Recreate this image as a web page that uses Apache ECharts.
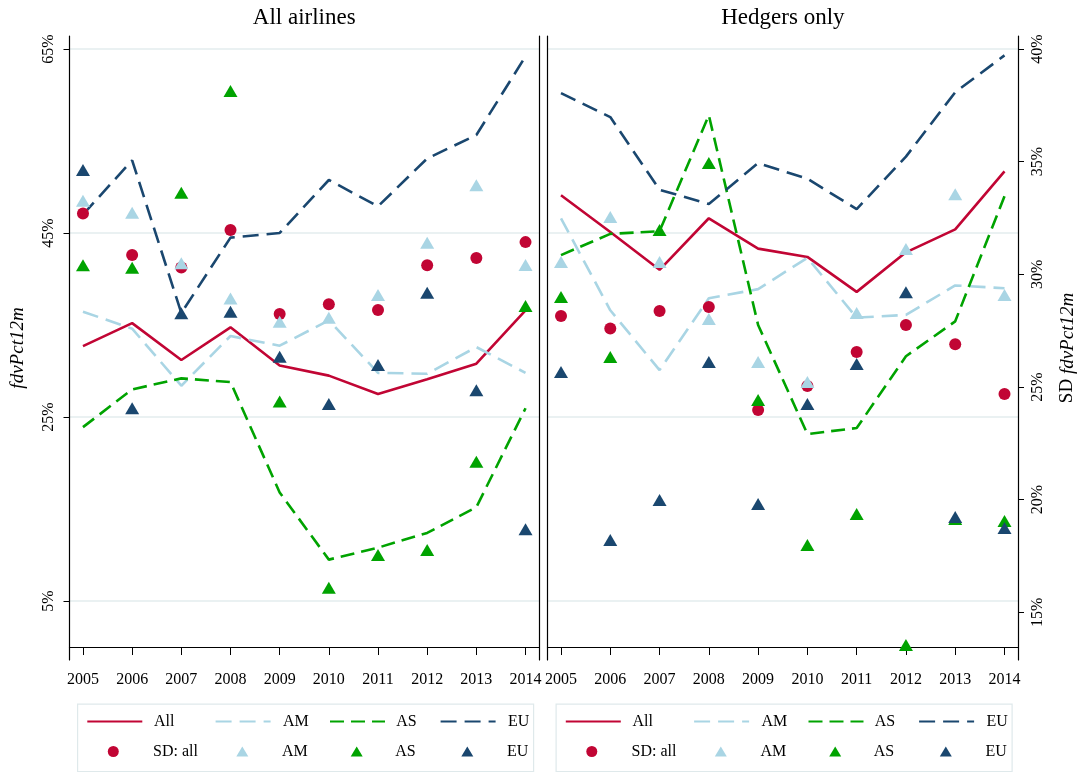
<!DOCTYPE html>
<html><head><meta charset="utf-8">
<script src="https://cdn.jsdelivr.net/npm/echarts@6/dist/echarts.min.js"></script>
<style>html,body{margin:0;padding:0;background:#fff}#c{width:1078px;height:772px}</style>
</head><body><div id="c"></div>
<script>
// ---------- data ----------
const years = [2005, 2006, 2007, 2008, 2009, 2010, 2011, 2012, 2013, 2014];
const meanTicks = [5, 25, 45, 65];
const sdTicks = [15, 20, 25, 30, 35, 40];
const panelTitles = ['All airlines', 'Hedgers only'];

// Panel 1: All airlines — mean fdvPct12m (lines, left axis, %)
const allMeanAll = [32.7, 35.2, 31.2, 34.75, 30.6, 29.5, 27.5, 29.1, 30.8, 36.6];
const allMeanAM  = [36.45, 34.6, 28.4, 33.8, 32.75, 35.5, 29.8, 29.7, 32.6, 29.8];
const allMeanAS  = [23.9, 28.0, 29.2, 28.8, 16.8, 9.5, 10.8, 12.4, 15.2, 25.95];
const allMeanEU  = [47.0, 52.9, 36.3, 44.5, 45.0, 50.76, 47.9, 53.1, 55.65, 64.2];
// Panel 1: SD fdvPct12m (markers, right axis, %)
const allSdAll = [32.7, 30.86, 30.3, 31.97, 28.24, 28.67, 28.42, 30.4, 30.72, 31.43];
const allSdAM  = [33.27, 32.73, 30.49, 28.93, 27.9, 28.07, 29.08, 31.4, 33.95, 30.41];
const allSdAS  = [30.4, 30.29, 33.62, 38.14, 24.35, 16.09, 17.54, 17.76, 21.68, 28.59];
const allSdEU  = [34.63, 24.05, 28.27, 28.34, 26.34, 24.24, 25.97, 29.18, 24.86, 18.68];

// Panel 2: Hedgers only — mean
const hedMeanAll = [49.1, 45.1, 41.0, 46.6, 43.3, 42.4, 38.6, 42.9, 45.4, 51.7];
const hedMeanAM  = [46.6, 36.6, 30.1, 37.9, 38.9, 42.3, 35.8, 36.1, 39.3, 39.0];
const hedMeanAS  = [42.6, 44.9, 45.2, 57.8, 35.0, 23.15, 23.8, 31.6, 35.4, 49.0];
const hedMeanEU  = [60.2, 57.6, 49.7, 48.15, 52.6, 50.9, 47.6, 53.3, 60.3, 64.3];
// Panel 2: SD
const hedSdAll = [28.15, 27.6, 28.37, 28.55, 23.98, 25.04, 26.55, 27.75, 26.9, 24.69];
const hedSdAM  = [30.55, 32.54, 30.55, 28.02, 26.11, 25.22, 28.28, 31.12, 33.56, 29.08];
const hedSdAS  = [28.99, 26.33, 31.97, 34.94, 24.42, 17.98, 19.36, 13.55, 19.14, 19.05];
const hedSdEU  = [25.66, 18.21, 19.98, 26.11, 19.8, 24.24, 26.02, 29.21, 19.23, 18.74];

// ---------- styles ----------
const FONT = "'Liberation Serif','Times New Roman',serif";
const C = {All: '#c10534', AM: '#a9d5e4', AS: '#00a300', EU: '#1a476f'};
const lineNames = ['All', 'AM', 'AS', 'EU'];
const sdNames = ['SD: all', 'SD AM', 'SD AS', 'SD EU'];
const dashes = {All: 'solid', AM: [16, 8], AS: [14, 7], EU: [16, 8]};

const panels = [
  {mean: [allMeanAll, allMeanAM, allMeanAS, allMeanEU], sd: [allSdAll, allSdAM, allSdAS, allSdEU]},
  {mean: [hedMeanAll, hedMeanAM, hedMeanAS, hedMeanEU], sd: [hedSdAll, hedSdAM, hedSdAS, hedSdEU]}
];

const grids = [
  {left: 69.5, top: 36, width: 469.5, height: 624},
  {left: 547.5, top: 36, width: 470.8, height: 624}
];
const X_MIN = 2004.726, X_MAX = 2014.274;
const MEAN_MIN = -1.41, MEAN_MAX = 66.41;
const SD_MIN = 12.88, SD_MAX = 40.58;

const axisLineStyle = {show: true, lineStyle: {color: '#000', width: 1.2}};
const xAxes = grids.map((g, i) => ({
  type: 'value', gridIndex: i, min: X_MIN, max: X_MAX,
  axisLine: axisLineStyle,
  axisTick: {show: true, length: 8, customValues: years, lineStyle: {color: '#000', width: 1}},
  axisLabel: {customValues: years, formatter: v => String(v), fontFamily: FONT, fontSize: 16, color: '#000', margin: 12},
  splitLine: {show: false}
}));

const splitStyle = {show: true, lineStyle: {color: '#e3ecee', width: 1.5}};
const yAxes = [
  {type: 'value', gridIndex: 0, position: 'left', min: MEAN_MIN, max: MEAN_MAX,
   axisLine: axisLineStyle,
   axisTick: {show: true, length: 6, customValues: meanTicks, lineStyle: {color: '#000'}},
   axisLabel: {customValues: meanTicks, formatter: v => v + '%', rotate: 90, fontFamily: FONT, fontSize: 16, color: '#000', margin: 13},
   splitLine: splitStyle,
   name: 'fdvPct12m', nameLocation: 'middle', nameRotate: 90, nameGap: 42,
   nameTextStyle: {fontFamily: FONT, fontStyle: 'italic', fontSize: 19, color: '#000'}},
  {type: 'value', gridIndex: 0, position: 'right', min: SD_MIN, max: SD_MAX,
   axisLine: axisLineStyle, axisTick: {show: false}, axisLabel: {show: false}, splitLine: {show: false}},
  {type: 'value', gridIndex: 1, position: 'left', min: MEAN_MIN, max: MEAN_MAX,
   axisLine: axisLineStyle,
   axisTick: {show: false, customValues: meanTicks},
   axisLabel: {show: false}, splitLine: splitStyle},
  {type: 'value', gridIndex: 1, position: 'right', min: SD_MIN, max: SD_MAX,
   axisLine: axisLineStyle,
   axisTick: {show: true, length: 6, customValues: sdTicks, lineStyle: {color: '#000'}},
   axisLabel: {customValues: sdTicks, formatter: v => v + '%', rotate: 90, fontFamily: FONT, fontSize: 16, color: '#000', margin: 12},
   splitLine: {show: false},
   name: '{a|SD }{b|fdvPct12m}', nameLocation: 'middle', nameRotate: 90, nameGap: 40,
   nameTextStyle: {fontFamily: FONT, fontSize: 19, color: '#000',
     rich: {a: {fontFamily: FONT, fontSize: 19, color: '#000'}, b: {fontFamily: FONT, fontSize: 19, fontStyle: 'italic', color: '#000'}}}}
];

const series = [];
panels.forEach((p, pi) => {
  lineNames.forEach((n, k) => {
    series.push({
      name: n, type: 'line', xAxisIndex: pi, yAxisIndex: pi * 2, symbol: 'none', z: 2,
      data: years.map((y, j) => [y, p.mean[k][j]]),
      lineStyle: {color: C[n], width: 2.6, type: dashes[n]}, itemStyle: {color: C[n]},
      animation: false
    });
  });
  sdNames.forEach((n, k) => {
    const col = C[lineNames[k]];
    series.push({
      name: n, type: 'scatter', xAxisIndex: pi, yAxisIndex: pi * 2 + 1, z: 3 + k,
      symbol: k === 0 ? 'circle' : 'triangle', symbolSize: k === 0 ? 12 : [14, 12],
      data: years.map((y, j) => [y, p.sd[k][j]]),
      itemStyle: {color: col, opacity: 1}, animation: false
    });
  });
});

// legends: positioned per item
const legends = [];
const boxLefts = [77, 555.5];
const rowY = [723.5, 753.5];
const lineOff = [9.3, 137.6, 252, 362.6];
const symOff = [36.3, 165.3, 279.7, 390.3];
const textOff = [76, 205, 318.3, 430];
const dispNames = ['All', 'AM', 'AS', 'EU'];
const sdDisp = ['SD: all', 'AM', 'AS', 'EU'];
boxLefts.forEach(bl => {
  lineNames.forEach((n, k) => {
    const x = bl + lineOff[k];
    legends.push({
      data: [{name: n, itemStyle: {opacity: 0}}], left: x, top: rowY[0] - 10, padding: 0, itemGap: 0,
      itemWidth: 55, itemHeight: 20, selectedMode: false, formatter: () => dispNames[k],
      textStyle: {fontFamily: FONT, fontSize: 16, color: '#000', padding: [0, 0, 0, bl + textOff[k] - (x + 55 + 5)]}
    });
  });
  sdNames.forEach((n, k) => {
    const w = k === 0 ? 11 : 12, h = k === 0 ? 11 : 10;
    const x = bl + symOff[k] - w / 2;
    legends.push({
      data: [{name: n, icon: k === 0 ? 'circle' : 'triangle'}], left: x, top: rowY[1] - 10, padding: 0, itemGap: 0,
      itemWidth: w, itemHeight: h, selectedMode: false, formatter: () => sdDisp[k],
      textStyle: {fontFamily: FONT, fontSize: 16, color: '#000', padding: [0, 0, 0, bl + textOff[k] - (x + w + 5)]}
    });
  });
});

const option = {
  animation: false,
  backgroundColor: '#fff',
  title: panelTitles.map((t, i) => ({
    text: t, left: grids[i].left + grids[i].width / 2, top: 6, padding: 0, textAlign: 'center',
    textStyle: {fontFamily: FONT, fontSize: 23, fontWeight: 'normal', color: '#000'}
  })),
  grid: grids,
  xAxis: xAxes,
  yAxis: yAxes,
  legend: legends,
  graphic: boxLefts.map(bl => ({
    type: 'rect', left: bl, top: 703.5, z: -1, silent: true,
    shape: {width: 456, height: 67.5},
    style: {fill: '#fff', stroke: '#dfe9eb', lineWidth: 1.2}
  })),
  series: series
};
echarts.init(document.getElementById('c'), null, {renderer: 'canvas'}).setOption(option);
</script>
</body></html>
